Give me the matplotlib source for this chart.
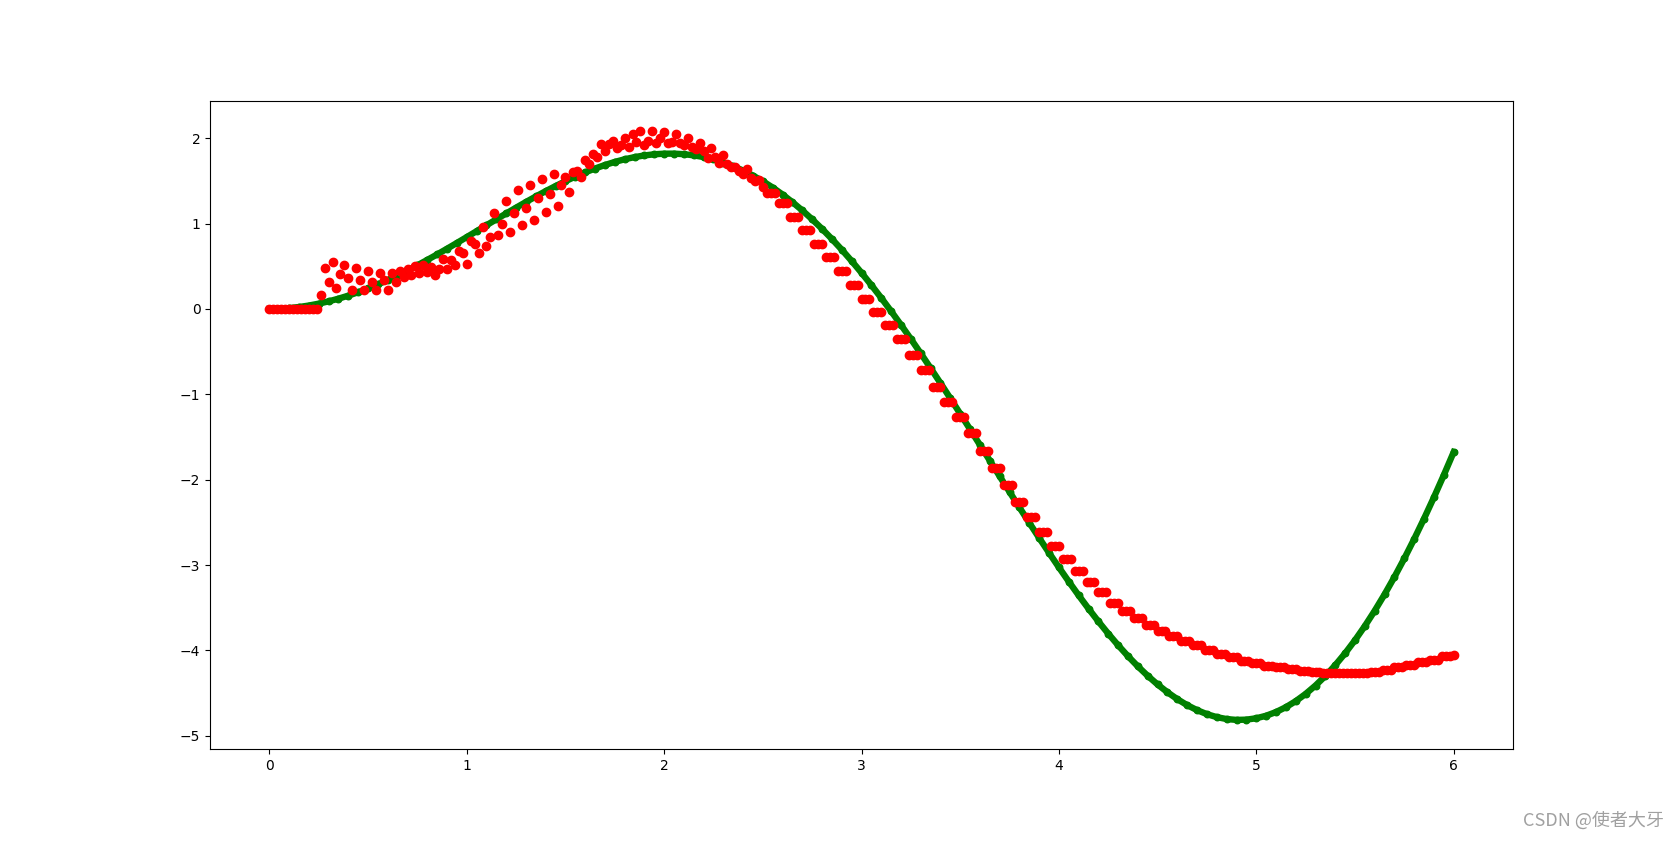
import numpy as np
import matplotlib.pyplot as plt

# true curve, sampled every 0.05
x_true = np.linspace(0, 6, 121)
y_true = [
    0.0, 0.0025, 0.00998, 0.02242, 0.03973, 0.06185, 0.08866, 0.12001, 0.15577, 0.19573,
    0.23971, 0.28748, 0.33879, 0.39337, 0.45095, 0.51123, 0.57388, 0.63859, 0.70499, 0.77274,
    0.84147, 0.91079, 0.98033, 1.04968, 1.11845, 1.18623, 1.25263, 1.31723, 1.37963, 1.43943,
    1.49624, 1.54967, 1.59932, 1.64483, 1.68583, 1.72198, 1.75293, 1.77836, 1.79797, 1.81147,
    1.81859, 1.81909, 1.81274, 1.79933, 1.77869, 1.75066, 1.71512, 1.67196, 1.62111, 1.56252,
    1.49618, 1.42209, 1.34030, 1.25088, 1.15393, 1.04957, 0.93797, 0.81931, 0.69382, 0.56175,
    0.42336, 0.27897, 0.12890, -0.02648, -0.18680, -0.35163, -0.52056, -0.69312, -0.86884, -1.04722,
    -1.22774, -1.40988, -1.59307, -1.77677, -1.96039, -2.14335, -2.32506, -2.50491, -2.68229, -2.85659,
    -3.02721, -3.19352, -3.35494, -3.51083, -3.66062, -3.80370, -3.93951, -4.06748, -4.18705, -4.29770,
    -4.39889, -4.49013, -4.57098, -4.64099, -4.69964, -4.74664, -4.78159, -4.80415, -4.81402, -4.81092,
    -4.79462, -4.76492, -4.72166, -4.66470, -4.59397, -4.50940, -4.41101, -4.29883, -4.17293, -4.03342,
    -3.88047, -3.71428, -3.53510, -3.34320, -3.13891, -2.92260, -2.69469, -2.45561, -2.20587, -1.94598,
    -1.67649,
]

# predicted values, sampled every 0.02
x_pred = np.linspace(0, 6, 301)
y_pred = [
    # 0.00 - 0.28
    0, 0, 0, 0, 0, 0, 0, 0, 0, 0, 0, 0, 0.0, 0.16, 0.48,
    # 0.30 - 2.50
    0.31, 0.55, 0.25, 0.41, 0.51, 0.36, 0.22, 0.48, 0.34, 0.22,
    0.45, 0.31, 0.22, 0.42, 0.34, 0.22, 0.42, 0.32, 0.45, 0.37,
    0.47, 0.40, 0.50, 0.42, 0.52, 0.43, 0.49, 0.40, 0.47, 0.58,
    0.47, 0.57, 0.52, 0.68, 0.66, 0.53, 0.80, 0.76, 0.65, 0.96,
    0.74, 0.84, 1.12, 0.87, 1.00, 1.27, 0.90, 1.12, 1.39, 0.98,
    1.18, 1.45, 1.04, 1.30, 1.52, 1.13, 1.35, 1.58, 1.21, 1.45,
    1.55, 1.37, 1.60, 1.62, 1.55, 1.75, 1.70, 1.82, 1.78, 1.93,
    1.85, 1.93, 1.97, 1.88, 1.92, 2.00, 1.90, 2.05, 1.95, 2.09,
    1.92, 1.97, 2.09, 1.94, 2.00, 2.07, 1.94, 1.96, 2.05, 1.94,
    1.92, 2.00, 1.90, 1.87, 1.94, 1.85, 1.77, 1.88, 1.78, 1.71,
    1.80, 1.70, 1.66, 1.66, 1.62, 1.58, 1.64, 1.53, 1.50, 1.51,
    1.43,
    # 2.52 - 5.98
    1.36, 1.36, 1.36, 1.24, 1.24, 1.24, 1.08, 1.08, 1.08, 0.92, 0.92, 0.92,
    0.76, 0.76, 0.76, 0.61, 0.61, 0.61, 0.45, 0.45, 0.45, 0.28, 0.28, 0.28,
    0.12, 0.12, 0.12, -0.04, -0.04, -0.04, -0.19, -0.19, -0.19, -0.35, -0.35, -0.35,
    -0.54, -0.54, -0.54, -0.72, -0.72, -0.72, -0.91, -0.91, -0.91, -1.09, -1.09, -1.09,
    -1.26, -1.26, -1.26, -1.45, -1.45, -1.45, -1.66, -1.66, -1.66, -1.86, -1.86, -1.86,
    -2.06, -2.06, -2.06, -2.26, -2.26, -2.26, -2.44, -2.44, -2.44, -2.61, -2.61, -2.61,
    -2.78, -2.78, -2.78, -2.93, -2.93, -2.93, -3.07, -3.07, -3.07, -3.20, -3.20, -3.20,
    -3.32, -3.32, -3.32, -3.44, -3.44, -3.44, -3.54, -3.54, -3.54, -3.62, -3.62, -3.62,
    -3.70, -3.70, -3.70, -3.77, -3.77, -3.77, -3.83, -3.83, -3.83, -3.89, -3.89, -3.89,
    -3.94, -3.94, -3.94, -3.99, -3.99, -3.99, -4.04, -4.04, -4.04, -4.08, -4.08, -4.08,
    -4.12, -4.12, -4.12, -4.15, -4.15, -4.15, -4.18, -4.18, -4.18, -4.20, -4.20, -4.20,
    -4.22, -4.22, -4.22, -4.24, -4.24, -4.24, -4.25, -4.25, -4.25, -4.26, -4.26, -4.26,
    -4.26, -4.26, -4.26, -4.26, -4.26, -4.26, -4.26, -4.26, -4.26, -4.25, -4.25, -4.25,
    -4.23, -4.23, -4.23, -4.20, -4.20, -4.20, -4.17, -4.17, -4.17, -4.14, -4.14, -4.14,
    -4.11, -4.11, -4.11, -4.07, -4.07, -4.07,
    # 6.00
    -4.05,
]

fig = plt.figure(figsize=(16.81, 8.42), dpi=100)
ax = fig.add_subplot(111)

ax.plot(x_true, y_true, color='green', lw=4.6, zorder=1)
ax.scatter(x_true, y_true, s=22, c='green', zorder=1)
ax.scatter(x_pred, y_pred, c='red', zorder=2)

fig.text(0.99, 0.015, 'CSDN @使者大牙', ha='right', va='bottom', fontsize=13,
         color='#a0a0a0', family=['Noto Sans CJK SC', 'DejaVu Sans'])

fig.savefig('out.png', dpi=100)
